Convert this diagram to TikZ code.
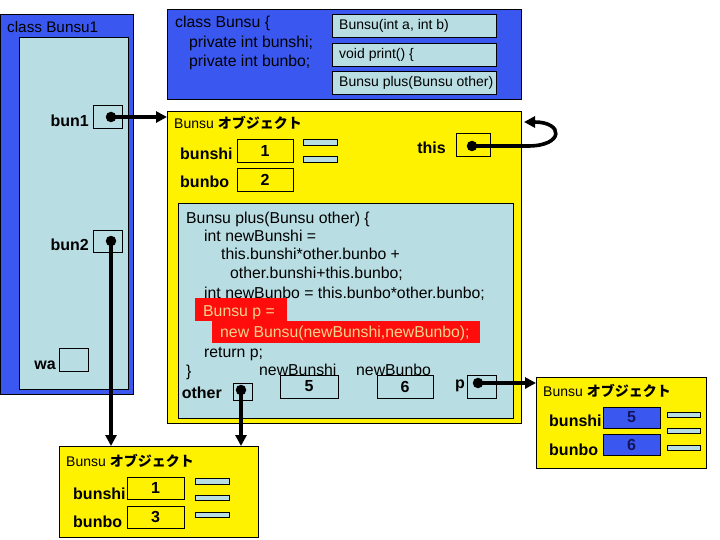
\documentclass[tikz,border=0pt]{standalone}
\usepackage{fontspec}
\setmainfont{Liberation Sans}
\newfontfamily\jp{Noto Sans CJK JP}
\usetikzlibrary{arrows.meta}
\definecolor{myblue}{RGB}{58,88,240}
\definecolor{mylight}{RGB}{184,221,227}
\definecolor{myred}{RGB}{255,12,12}
\definecolor{redtext}{RGB}{242,212,140}
\definecolor{navy}{RGB}{20,20,90}
\tikzset{
  bx/.style={draw=black, line width=0.7pt, inner sep=0pt, outer sep=0pt, anchor=north west},
  bluebx/.style={bx, fill=myblue},
  lightbx/.style={bx, fill=mylight},
  yelbx/.style={bx, fill=yellow},
  redbx/.style={inner sep=0pt, outer sep=0pt, anchor=north west, fill=myred},
  txt/.style={inner sep=0pt, anchor=base west, font=\fontsize{15.8}{18}\selectfont},
  lbl/.style={inner sep=0pt, anchor=base west, font=\fontsize{16}{19}\selectfont\bfseries},
  lble/.style={inner sep=0pt, anchor=base east, font=\fontsize{16}{19}\selectfont\bfseries},
  num/.style={font=\fontsize{16}{19}\selectfont\bfseries},
  ttl/.style={inner sep=0pt, anchor=base west, font=\fontsize{14}{16}\selectfont},
  mth/.style={inner sep=0pt, anchor=west, font=\fontsize{14}{16}\selectfont},
  ptr/.style={line width=3.6pt, -{Triangle[length=11pt,width=11pt]}},
  dotnode/.style={circle, fill=black, inner sep=0pt, minimum size=10.5pt},
}
\newcommand{\objtitle}{Bunsu {\jp\bfseries オブジェクト}}
\begin{document}
\begin{tikzpicture}[x=1pt,y=-1pt]
\useasboundingbox (0,0) rectangle (720,540);
% ---- class Bunsu1 frame ----
\node[bluebx, minimum width=133pt, minimum height=380pt] (frame1) at (0.5,14) {};
\node[lightbx, minimum width=109pt, minimum height=352pt] (stack1) at (19,37) {};
\node[txt, font=\fontsize{15.3}{18}\selectfont] (t1) at (7,33) {class Bunsu1};
\node[bx, minimum width=29pt, minimum height=23pt] (bun1box) at (93,105) {};
\node[bx, minimum width=29pt, minimum height=22pt] (bun2box) at (93,230) {};
\node[bx, minimum width=29pt, minimum height=23pt] (wabox) at (59,348) {};
\node[lble] (bun1lbl) at (89,127) {bun1};
\node[lble] (bun2lbl) at (89,251) {bun2};
\node[lble] (walbl) at (56,369) {wa};
% ---- class Bunsu ----
\node[bluebx, minimum width=354pt, minimum height=90pt] (classbox) at (167,9) {};
\node[txt] (c1) at (175,28) {class Bunsu \{};
\node[txt] (c2) at (189,48) {private int bunshi;};
\node[txt] (c3) at (189,67) {private int bunbo;};
\node[lightbx, minimum width=164pt, minimum height=23pt] (m1) at (332,14) {};
\node[lightbx, minimum width=164pt, minimum height=23pt] (m2) at (332,43) {};
\node[lightbx, minimum width=164pt, minimum height=23pt] (m3) at (332,71) {};
\node[mth] at ([xshift=7pt]m1.west) {Bunsu(int a, int b)};
\node[mth] at ([xshift=7pt]m2.west) {void print() \{};
\node[mth] at ([xshift=7pt]m3.west) {Bunsu plus(Bunsu other)};
% ---- main object ----
\node[yelbx, minimum width=354pt, minimum height=312pt] (objA) at (167,111) {};
\node[ttl] (ttlA) at (174,129) {\objtitle};
\node[bx, minimum width=56pt, minimum height=23pt, num] (bunshiA) at (237,139) {1};
\node[bx, minimum width=56pt, minimum height=23pt, num] (bunboA) at (237,168) {2};
\node[lbl] at (180,160) {bunshi};
\node[lbl] at (180,188) {bunbo};
\node[lightbx, minimum width=34pt, minimum height=6pt] (barA1) at (303,139) {};
\node[lightbx, minimum width=34pt, minimum height=6pt] (barA2) at (303,156) {};
\node[bx, minimum width=34pt, minimum height=23pt] (thisbox) at (456,133) {};
\node[lble] (thislbl) at (446,154) {this};
% code area
\node[lightbx, minimum width=335pt, minimum height=215pt] (code) at (178,203) {};
\node[redbx, minimum width=92pt, minimum height=23pt] (red1) at (195,298) {};
\node[redbx, minimum width=268pt, minimum height=22pt] (red2) at (212,321) {};
\node[txt] at (186,223) {Bunsu plus(Bunsu other) \{};
\node[txt] at (204,241) {int newBunshi =};
\node[txt] at (221,259) {this.bunshi*other.bunbo +};
\node[txt] at (230,278) {other.bunshi+this.bunbo;};
\node[txt] at (204,298) {int newBunbo = this.bunbo*other.bunbo;};
\node[txt, text=redtext] at (203,316) {Bunsu p =};
\node[txt, text=redtext] at (220,337) {new Bunsu(newBunshi,newBunbo);};
\node[txt] at (204,357) {return p;};
\node[txt] at (186,376) {\}};
\node[txt] at (259,375) {newBunshi};
\node[txt] at (356,375) {newBunbo};
\node[bx, minimum width=19pt, minimum height=17pt] (otherbox) at (233,383) {};
\node[lble] (otherlbl) at (222,398) {other};
\node[bx, minimum width=58pt, minimum height=23pt, num] (nb5) at (280,375) {5};
\node[bx, minimum width=56pt, minimum height=23pt, num] (nb6) at (377,375) {6};
\node[bx, minimum width=29pt, minimum height=23pt] (pbox) at (467,375) {};
\node[lble] (plbl) at (465,388) {p};
% ---- right object ----
\node[yelbx, minimum width=170pt, minimum height=91pt] (objB) at (536,377) {};
\node[ttl] at (543,396) {\objtitle};
\node[bluebx, minimum width=57pt, minimum height=21pt, num, text=navy] (bunshiB) at (603,407) {5};
\node[bluebx, minimum width=57pt, minimum height=21pt, num, text=navy] (bunboB) at (603,434) {6};
\node[lbl] at (549,426) {bunshi};
\node[lbl] at (549,455) {bunbo};
\node[lightbx, minimum width=33pt, minimum height=5pt] (barB1) at (667,412) {};
\node[lightbx, minimum width=33pt, minimum height=5pt] (barB2) at (667,428) {};
\node[lightbx, minimum width=33pt, minimum height=5pt] (barB3) at (667,445) {};
% ---- bottom object ----
\node[yelbx, minimum width=199pt, minimum height=91pt] (objC) at (59,446) {};
\node[ttl] at (66,466) {\objtitle};
\node[bx, minimum width=57pt, minimum height=22pt, num] (bunshiC) at (127,477) {1};
\node[bx, minimum width=57pt, minimum height=22pt, num] (bunboC) at (127,506) {3};
\node[lbl] at (73,499) {bunshi};
\node[lbl] at (73,527) {bunbo};
\node[lightbx, minimum width=34pt, minimum height=6pt] (barC1) at (195,478) {};
\node[lightbx, minimum width=34pt, minimum height=5pt] (barC2) at (195,495) {};
\node[lightbx, minimum width=34pt, minimum height=5pt] (barC3) at (195,512) {};
% ---- dots and pointers ----
\node[dotnode] (d1) at (111,117) {};
\node[dotnode] (d2) at (111,241) {};
\node[dotnode] (dthis) at (472,146) {};
\node[dotnode] (dother) at (241,390) {};
\node[dotnode] (dp) at (478,383) {};
\coordinate (thisbend) at (528,146);
\coordinate (thisend) at (524,122);
\draw[ptr] (d1.center) -- (objA.west |- d1.center);
\draw[ptr] (d2.center) -- (d2.center |- objC.north);
\draw[ptr] (dother.center) -- (dother.center |- objC.north);
\draw[ptr] (dp.center) -- (objB.west |- dp.center);
\draw[ptr] (dthis.center) -- (thisbend) .. controls (564,146) and (564,122) .. (thisend);
\end{tikzpicture}
\end{document}
